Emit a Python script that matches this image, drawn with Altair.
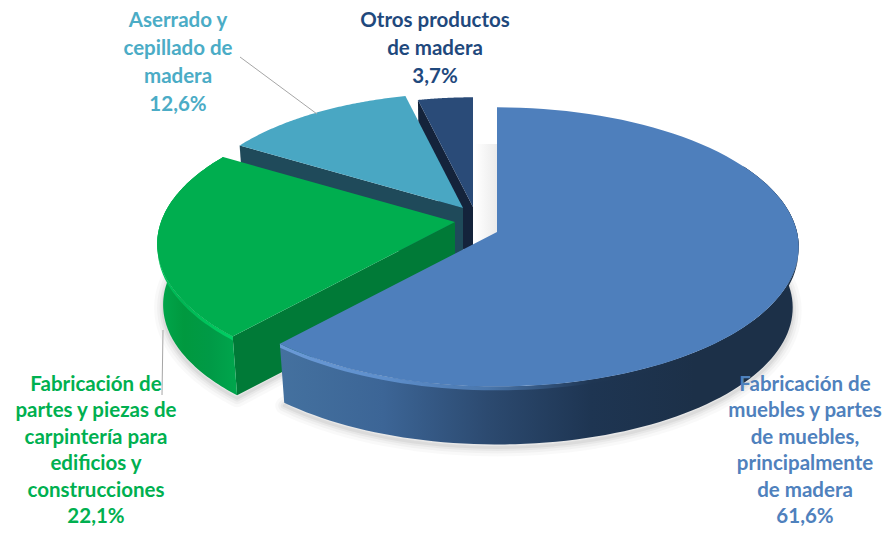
import math
import pandas as pd
import altair as alt

# ---- values ----
CATEGORIES = ["Fabricación de muebles", "Fabricación de partes", "Aserrado y cepillado", "Otros productos"]
SHARES = [61.6, 22.1, 12.6, 3.7]

LABEL_LINES = [
    ["Fabricación de", "muebles y partes", "de muebles,", "principalmente", "de madera", "61,6%"],
    ["Fabricación de", "partes y piezas de", "carpintería para", "edificios y", "construcciones", "22,1%"],
    ["Aserrado y", "cepillado de", "madera", "12,6%"],
    ["Otros productos", "de madera", "3,7%"],
]
LABEL_X = [805, 96, 178, 435]
LABEL_Y0 = [391, 391, 27, 27]
LINE_STEP = [26.4, 26.4, 28, 28]
LABEL_COLORS = ["#4f81bd", "#00b050", "#4bacc6", "#1f497d"]

# ---- geometry / style (page pixels) ----
OFF = 8
RX, RY, DEPTH = 300, 138, 61
APEX = [(497, 232), (455, 222), (463, 208), (473, 207)]
SCALE = [1.0, 0.98, 0.92, 0.88]
PERSP = [0.107, 0.16, 0.107, 0.107]
TOP = ["#4e7fbc", "#00ae4f", "#49a7c3", "#2a4b78"]
RADIAL = ["#2f5078", "#007a37", "#1f4a5a", "#14233b"]
LEADERS = [[(240, 57), (317, 114)], [(163, 330), (162, 395)]]

def pt(i, deg, h=0.0):
    t = math.radians(deg)
    p = 1 / (1 + PERSP[i] * math.cos(t))
    shrink = 1 - 0.02 * h / DEPTH
    ax, ay = APEX[i]
    return [ax + SCALE[i] * RX * math.sin(t) * p * shrink - OFF,
            ay - SCALE[i] * RY * math.cos(t) * p * shrink + h - OFF]

def arc(i, a, b, h=0.0, n=90):
    return [pt(i, a + (b - a) * k / n, h) for k in range(n + 1)]

def poly(points, **mark):
    ring = points + [points[0]]
    data = alt.InlineData(values={"type": "FeatureCollection", "features": [
        {"type": "Feature", "properties": {}, "geometry": {"type": "Polygon", "coordinates": [ring]}}]},
        format=alt.DataFormat(property="features", type="json"))
    return alt.Chart(data).mark_geoshape(**mark)

def grad(*stops):
    n = len(stops) - 1
    return {"gradient": "linear", "x1": 0, "x2": 1, "y1": 0, "y2": 0,
            "stops": [{"offset": k / n, "color": c} for k, c in enumerate(stops)]}

WALL = [grad("#44719f", "#3c6596", "#2c4a70", "#1e3552", "#1c3048", "#1c3048"),
        grad("#00a84d", "#00993f", "#009a46", "#00a64d"),
        None, None]
BEVEL = [grad("#6a9ad6", "#5e8fcc", "#4a77ad", "#1f3653", "#1c3048", "#1c3048"),
         grad("#00c75e", "#00b654", "#00c45c", "#00d065"),
         None, None]

# slice angles (clockwise from 12 o'clock) come from the shares
edges = [0.0]
for v in SHARES:
    edges.append(edges[-1] + v / sum(SHARES) * 360)

layers = []

# soft shadow below the front slices
for w, op in [(18, 0.025), (12, 0.03), (7, 0.04), (3, 0.05)]:
    for i in (1, 0):
        a, b = edges[i], edges[i + 1]
        shadow = [[x, y + 3] for x, y in arc(i, a, b, DEPTH)] + [[APEX[i][0] - OFF, APEX[i][1] - OFF + DEPTH]]
        layers.append(poly(shadow, fill="#000000", fillOpacity=0.0, stroke="#000000",
                           strokeOpacity=op, strokeWidth=w, strokeJoin="round"))

# faint shade beside the upright cut of the big slice
bx, by = APEX[0][0] - OFF, APEX[0][1] - OFF
layers.append(poly([[bx - 22, by - 88], [bx, by - 88], [bx, by + 4], [bx - 22, by + 10]],
                   fill=grad("#ffffff", "#ebebeb")))

# back to front: navy, teal, green, blue
for i in (3, 2, 1, 0):
    a, b = edges[i], edges[i + 1]
    ax, ay = APEX[i][0] - OFF, APEX[i][1] - OFF
    if i != 0:
        # cut face at the start of the slice (facing the viewer)
        layers.append(poly([[ax, ay], pt(i, a), pt(i, a, DEPTH), [ax, ay + DEPTH]], fill=RADIAL[i]))
    if WALL[i] is not None:
        front_start, front_end = (60, b) if i == 0 else (a, b)
        wall = arc(i, front_start, front_end) + arc(i, front_end, front_start, DEPTH)
        layers.append(poly(wall, fill=WALL[i]))
        rim = arc(i, front_start, front_end) + arc(i, front_end, front_start, 4)
        layers.append(poly(rim, fill=BEVEL[i]))
    layers.append(poly([[ax, ay]] + arc(i, a, b), fill=TOP[i]))

charts = [c.project(type="identity", scale=1, translate=[0, 0]) for c in layers]

# leader lines
rows = []
for k, seg in enumerate(LEADERS):
    rows.append({"x": seg[0][0] - OFF, "y": seg[0][1] - OFF, "x2": seg[1][0] - OFF, "y2": seg[1][1] - OFF})
leaders = alt.Chart(pd.DataFrame(rows)).mark_rule(color="#a6a6a6", strokeWidth=1).encode(
    x=alt.X("x:Q", scale=None, axis=None), y=alt.Y("y:Q", scale=None, axis=None),
    x2="x2:Q", y2="y2:Q")

# labels
text_rows = []
for cat, lines, lx, ly, st, col in zip(CATEGORIES, LABEL_LINES, LABEL_X, LABEL_Y0, LINE_STEP, LABEL_COLORS):
    for n, line in enumerate(lines):
        text_rows.append({"cat": cat, "line": line, "x": lx - OFF, "y": ly + n * st - OFF, "col": col})
labels = alt.Chart(pd.DataFrame(text_rows)).mark_text(
    font="Lato", fontWeight="bold", fontSize=20.5, baseline="alphabetic", align="center"
).encode(
    x=alt.X("x:Q", scale=None, axis=None), y=alt.Y("y:Q", scale=None, axis=None),
    text="line:N", color=alt.Color("col:N", scale=None))

chart = alt.layer(*charts, leaders, labels).properties(
    width=875, height=520, padding=0, autosize=alt.AutoSizeParams(type="none"),
    background="white"
).configure_view(stroke=None)

chart.save("out.html", embed_options={"renderer": "svg", "actions": False})
